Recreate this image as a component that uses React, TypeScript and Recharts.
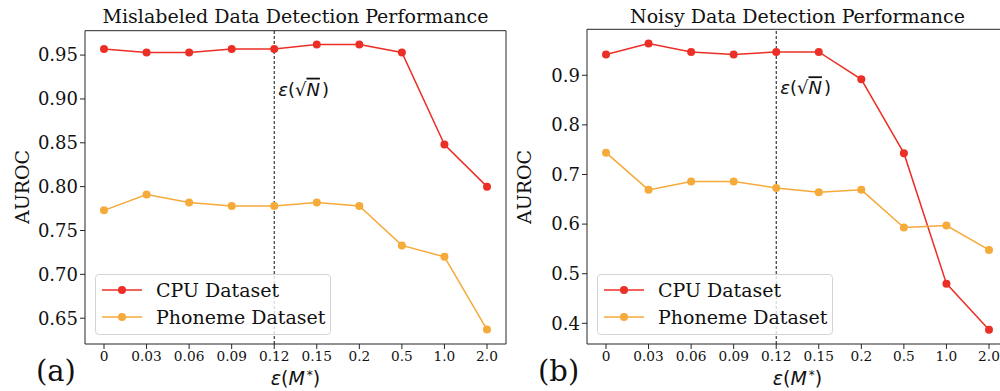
import React from 'react';
import { LineChart, Line, XAxis, YAxis, ReferenceLine, Legend } from 'recharts';

const EPSILONS = ['0', '0.03', '0.06', '0.09', '0.12', '0.15', '0.2', '0.5', '1.0', '2.0'];

const CPU_MISLABELED = [0.957, 0.953, 0.953, 0.957, 0.957, 0.962, 0.962, 0.953, 0.848, 0.800];
const PHONEME_MISLABELED = [0.773, 0.791, 0.782, 0.778, 0.778, 0.782, 0.778, 0.733, 0.720, 0.637];

const CPU_NOISY = [0.942, 0.964, 0.947, 0.942, 0.947, 0.947, 0.892, 0.743, 0.480, 0.387];
const PHONEME_NOISY = [0.744, 0.669, 0.686, 0.686, 0.673, 0.664, 0.669, 0.593, 0.597, 0.548];

const TICKS_A = [0.65, 0.7, 0.75, 0.8, 0.85, 0.9, 0.95];
const TICKS_B = [0.4, 0.5, 0.6, 0.7, 0.8, 0.9];

const RED = '#ec2f26';
const ORANGE = '#f5aa3a';
const SERIF = '"DejaVu Serif", serif';
const SANS = '"DejaVu Sans", sans-serif';
const SPINE = '#262626';

function LegendBox() {
    const rows = [
        { name: 'CPU Dataset', color: RED },
        { name: 'Phoneme Dataset', color: ORANGE },
    ];
    return (
        <div style={{ width: 236, height: 61, boxSizing: 'border-box', border: '1px solid #d4d4d4', borderRadius: 4, background: 'rgba(255,255,255,0.8)', paddingTop: 1 }}>
            {rows.map((r) => (
                <div key={r.name} style={{ display: 'flex', alignItems: 'center', height: 27 }}>
                    <svg width={60} height={12} style={{ flex: 'none' }}>
                        <line x1={6} x2={46} y1={6} y2={6} stroke={r.color} strokeWidth={1.5} />
                        <circle cx={26} cy={6} r={4} fill={r.color} />
                    </svg>
                    <span style={{ fontFamily: SERIF, fontSize: 19, color: '#111', whiteSpace: 'nowrap' }}>{r.name}</span>
                </div>
            ))}
        </div>
    );
}

function SqrtLabel(props: any) {
    const vb = props.viewBox || {};
    return (
        <text x={vb.x + 4} y={vb.y + 65} fontFamily={SANS} fontSize={18} fill="#111">
            <tspan fontStyle="italic">ε</tspan>
            <tspan>(√</tspan>
            <tspan fontStyle="italic" textDecoration="overline">N</tspan>
            <tspan dx={2}>)</tspan>
        </text>
    );
}

interface PanelProps {
    left: number;
    title: string;
    tag: string;
    cpu: number[];
    phoneme: number[];
    domain: [number, number];
    ticks: number[];
    decimals: number;
    top: number;
}

function Panel({ left, title, tag, cpu, phoneme, domain, ticks, decimals, top }: PanelProps) {
    const data = EPSILONS.map((eps, i) => ({ eps, cpu: cpu[i], phoneme: phoneme[i] }));
    return (
        <div style={{ position: 'absolute', left, top: 0, width: 512, height: 391 }}>
            <LineChart width={512} height={391} data={data} margin={{ top: top - 1, right: 5, bottom: 17, left: 25 }}>
                <XAxis
                    dataKey="eps"
                    type="category"
                    scale="point"
                    padding={{ left: 19, right: 19 }}
                    height={30}
                    stroke={SPINE}
                    tickSize={5}
                    tickMargin={2}
                    interval={0}
                    tick={{ fontFamily: SERIF, fontSize: 13.7, fill: '#111' }}
                />
                <XAxis xAxisId="top" dataKey="eps" orientation="top" height={1} tick={false} tickLine={false} stroke={SPINE} />
                <YAxis
                    domain={domain}
                    ticks={ticks}
                    allowDataOverflow
                    width={60}
                    stroke={SPINE}
                    tickSize={5}
                    tickMargin={2}
                    tickFormatter={(v: number) => v.toFixed(decimals)}
                    tick={{ fontFamily: SERIF, fontSize: 18, fill: '#111' }}
                />
                <YAxis yAxisId="right" orientation="right" width={1} domain={[0, 1]} tick={false} tickLine={false} stroke={SPINE} />
                <ReferenceLine x="0.12" stroke="#111" strokeWidth={1} strokeDasharray="3 2" label={<SqrtLabel />} />
                <Line type="linear" dataKey="cpu" name="CPU Dataset" stroke={RED} strokeWidth={1.5}
                    dot={{ r: 4, fill: RED, stroke: RED, strokeWidth: 0 }} isAnimationActive={false} />
                <Line type="linear" dataKey="phoneme" name="Phoneme Dataset" stroke={ORANGE} strokeWidth={1.5}
                    dot={{ r: 4, fill: ORANGE, stroke: ORANGE, strokeWidth: 0 }} isAnimationActive={false} />
                <Legend layout="horizontal" verticalAlign="middle" align="center"
                    wrapperStyle={{ position: 'absolute', left: 95, top: 274, width: 236, height: 61 }}
                    content={() => <LegendBox />} />
            </LineChart>
            <div style={{ position: 'absolute', left: 85, width: 421, top: 5, textAlign: 'center', fontFamily: SERIF, fontSize: 19, color: '#111', whiteSpace: 'nowrap' }}>
                {title}
            </div>
            <div style={{ position: 'absolute', left: 22, top: 187, transform: 'translate(-50%, -50%) rotate(-90deg)', fontFamily: SERIF, fontSize: 19, color: '#111' }}>
                AUROC
            </div>
            <div style={{ position: 'absolute', left: 85, width: 421, top: 367, height: 22, textAlign: 'center', fontFamily: SANS, fontSize: 19, color: '#111', lineHeight: '22px' }}>
                <i>ε</i>(<i>M</i><sup style={{ fontSize: 12, verticalAlign: '6px', lineHeight: 0, marginLeft: 2 }}>*</sup>)
            </div>
            <div style={{ position: 'absolute', left: 36, top: 352, fontFamily: SERIF, fontSize: 29, color: '#111', lineHeight: '38px' }}>
                {tag}
            </div>
        </div>
    );
}

export default function App() {
    return (
        <div style={{ position: 'absolute', left: 0, top: 0, width: 1000, height: 391, overflow: 'hidden', background: '#fff' }}>
            <Panel left={0} top={30.7} title="Mislabeled Data Detection Performance" tag="(a)"
                cpu={CPU_MISLABELED} phoneme={PHONEME_MISLABELED} domain={[0.6206, 0.9778]} ticks={TICKS_A} decimals={2} />
            <Panel left={502} top={29.3} title="Noisy Data Detection Performance" tag="(b)"
                cpu={CPU_NOISY} phoneme={PHONEME_NOISY} domain={[0.3583, 0.9927]} ticks={TICKS_B} decimals={1} />
        </div>
    );
}
